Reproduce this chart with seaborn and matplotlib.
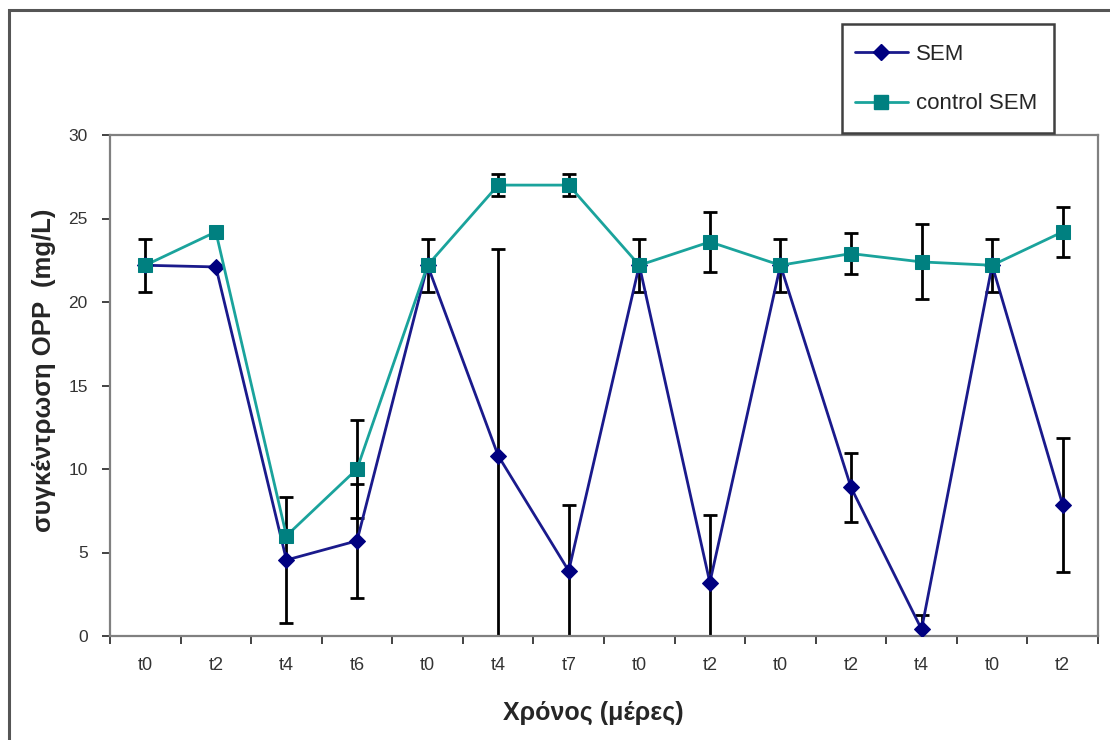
import matplotlib
matplotlib.use("Agg")
import matplotlib.pyplot as plt
import seaborn as sns
import pandas as pd
from matplotlib.patches import Rectangle

# ----------------------------
# Data
# ----------------------------
time_labels = ["t0", "t2", "t4", "t6", "t0", "t4", "t7",
               "t0", "t2", "t0", "t2", "t4", "t0", "t2"]

sem_vals = [22.2, 22.1, 4.55, 5.7, 22.2, 10.8, 3.9,
            22.2, 3.2, 22.2, 8.9, 0.4, 22.2, 7.85]
sem_err = [0.0, 0.0, 3.75, 3.4, 0.0, 12.4, 3.95,
           0.0, 4.05, 0.0, 2.05, 0.85, 0.0, 4.0]

ctrl_vals = [22.2, 24.2, 6.0, 10.0, 22.2, 27.0, 27.0,
             22.2, 23.6, 22.2, 22.9, 22.4, 22.2, 24.2]
ctrl_err = [1.6, 0.0, 0.0, 2.95, 1.6, 0.65, 0.65,
            1.6, 1.8, 1.6, 1.25, 2.25, 1.6, 1.5]

df = pd.DataFrame({
    "pos": list(range(len(time_labels))) * 2,
    "value": sem_vals + ctrl_vals,
    "series": ["SEM"] * len(sem_vals) + ["control SEM"] * len(ctrl_vals),
})

# ----------------------------
# Plot
# ----------------------------
sns.set_style("white")
plt.rcParams["font.family"] = ["Liberation Sans", "DejaVu Sans"]

fig = plt.figure(figsize=(11.1, 7.4), dpi=100)
ax = fig.add_axes([110 / 1110, 1 - 636 / 740, 988 / 1110, 501 / 740])

x = list(range(len(time_labels)))
ax.errorbar(x, ctrl_vals, yerr=ctrl_err, fmt="none", ecolor="black",
            elinewidth=2, capsize=5, capthick=2, zorder=2)
ax.errorbar(x, sem_vals, yerr=sem_err, fmt="none", ecolor="black",
            elinewidth=2, capsize=5, capthick=2, zorder=2)

sns.lineplot(data=df, x="pos", y="value", hue="series", style="series",
             palette={"SEM": "#1a1a8c", "control SEM": "#1aa39c"},
             markers={"SEM": "D", "control SEM": "s"}, dashes=False,
             linewidth=2, ax=ax, zorder=3, legend=False)
# marker colours / sizes
for line, mface, msize in zip(ax.lines[-2:], ["#000080", "#008080"], [8, 10.5]):
    line.set_markerfacecolor(mface)
    line.set_markeredgecolor(mface)
    line.set_markersize(msize)

ax.set_xlim(-0.5, len(time_labels) - 0.5)
ax.set_ylim(0, 30)
ax.set_yticks([0, 5, 10, 15, 20, 25, 30])
ax.set_xticks(x)
ax.set_xticklabels(time_labels)
ax.set_xticks([i - 0.5 for i in range(len(time_labels) + 1)], minor=True)
ax.tick_params(axis="x", which="major", length=0, pad=15,
               labelsize=13, labelcolor="#333333")
ax.tick_params(axis="x", which="minor", length=6, width=1.2,
               direction="out", color="#222222", bottom=True)
ax.tick_params(axis="y", length=6, width=1.2, direction="out",
               color="#222222", left=True, pad=10,
               labelsize=12.5, labelcolor="#333333")

for s in ax.spines.values():
    s.set_color("#808080")
    s.set_linewidth(1.6)

ax.set_xlabel("Χρόνος (μέρες)", fontsize=18, fontweight="bold")
ax.xaxis.set_label_coords(0.489, -0.13)
ax.set_ylabel("συγκέντρωση OPP  (mg/L)", fontsize=18.5, fontweight="bold")
ax.yaxis.set_label_coords(-0.055, 0.531)

# legend (frame drawn separately to match the box size)
handles = [
    plt.Line2D([], [], color="#1a1a8c", lw=2, marker="D", markersize=8,
               markerfacecolor="#000080", markeredgecolor="#000080"),
    plt.Line2D([], [], color="#1aa39c", lw=2, marker="s", markersize=10,
               markerfacecolor="#008080", markeredgecolor="#008080"),
]
fig.legend(handles, ["SEM", "control SEM"], loc="center",
           bbox_to_anchor=(946 / 1110, 1 - 79 / 740), borderaxespad=0,
           fontsize=16, frameon=False, handlelength=2.4,
           labelspacing=1.3, borderpad=0.3, handletextpad=0.35)
fig.patches.append(Rectangle((842 / 1110, 1 - 133 / 740), 212 / 1110, 109 / 740,
                             transform=fig.transFigure, fill=False,
                             edgecolor="#404040", linewidth=1.8, zorder=5))

# outer chart frame
fig.patches.append(Rectangle((9 / 1110, -0.01), 1.1, 1 - 10 / 740 + 0.01,
                             transform=fig.transFigure, fill=False,
                             edgecolor="#555555", linewidth=2.2))

fig.savefig("out.png", dpi=100)
